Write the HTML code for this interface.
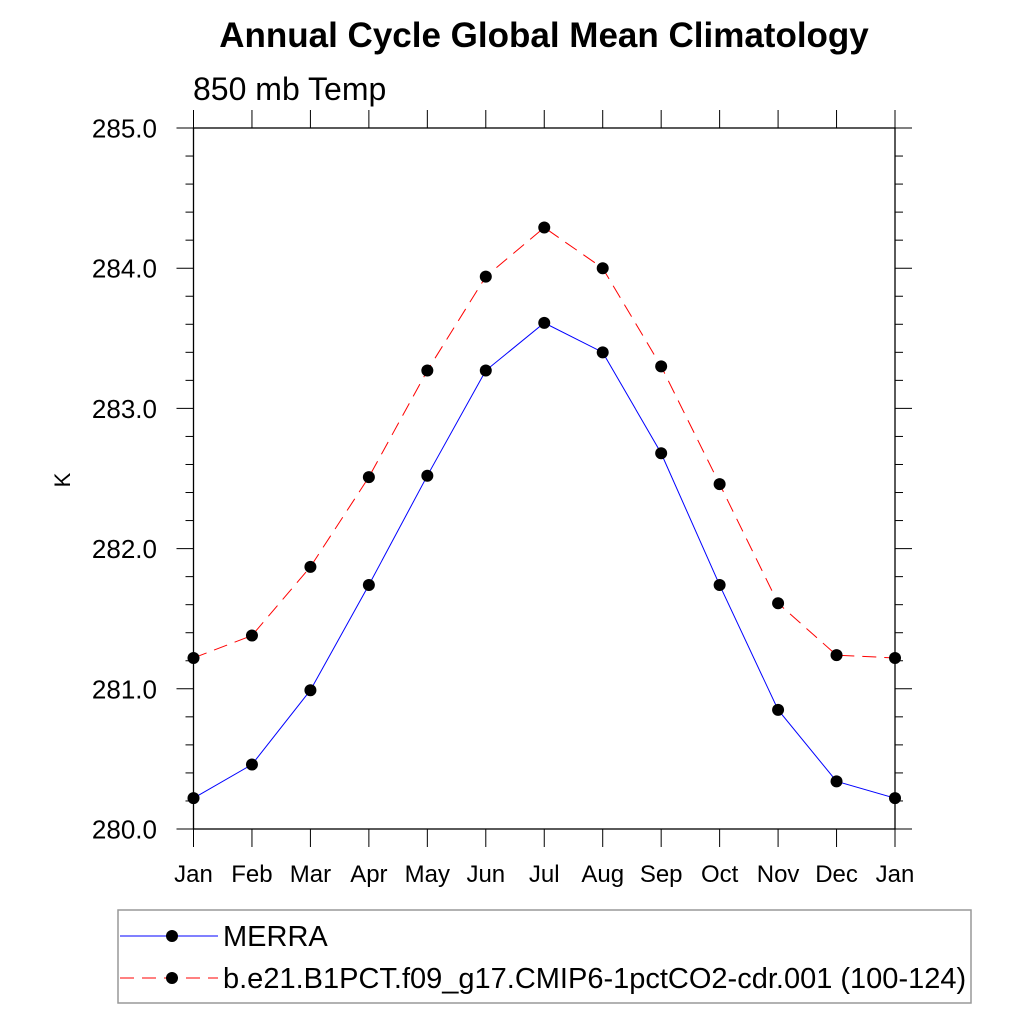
<!DOCTYPE html>
<html><head><meta charset="utf-8"><style>
html,body{margin:0;padding:0;background:#fff;}
svg text{font-family:"Liberation Sans",Arial,sans-serif;}
</style></head><body>
<svg id="chart" width="1024" height="1024" xmlns="http://www.w3.org/2000/svg">
<rect width="1024" height="1024" fill="#fff"/>
<text x="544" y="47" font-size="35" font-weight="bold" text-anchor="middle">Annual Cycle Global Mean Climatology</text>
<text x="193" y="100" font-size="32">850 mb Temp</text>
<text transform="translate(70,480) rotate(-90)" font-size="22" text-anchor="middle">K</text>
<g id="axes"></g>
<g id="series"></g>
<rect x="118" y="910" width="853" height="93" fill="none" stroke="#999" stroke-width="1.5"/>
<g>
<line x1="120" y1="936" x2="218" y2="936" stroke="#0000ff" stroke-width="1"/>
<circle cx="172" cy="936" r="6" fill="#000"/>
<text x="223" y="946" font-size="29">MERRA</text>
</g>
<g>
<line x1="120" y1="978" x2="218" y2="978" stroke="#ff0000" stroke-width="1" stroke-dasharray="14,8"/>
<circle cx="172" cy="978" r="6" fill="#000"/>
<text x="223" y="988" font-size="29">b.e21.B1PCT.f09_g17.CMIP6-1pctCO2-cdr.001 (100-124)</text>
</g>
</svg>
<script>
const months = ["Jan","Feb","Mar","Apr","May","Jun","Jul","Aug","Sep","Oct","Nov","Dec","Jan"];
const merra = [280.22,280.46,280.99,281.74,282.52,283.27,283.61,283.40,282.68,281.74,280.85,280.34,280.22];
const model = [281.22,281.38,281.87,282.51,283.27,283.94,284.29,284.00,283.30,282.46,281.61,281.24,281.22];
const yTicks = [280.0,281.0,282.0,283.0,284.0,285.0];

const L=193.5,R=895,T=128,B=829,yMin=280,yMax=285;
const NS="http://www.w3.org/2000/svg";
function xs(i){return L+i*(R-L)/(months.length-1);}
function ys(v){return B-(v-yMin)/(yMax-yMin)*(B-T);}
function mk(tag,attrs,parent){const e=document.createElementNS(NS,tag);for(const k in attrs)e.setAttribute(k,attrs[k]);parent.appendChild(e);return e;}
const axes=document.getElementById('axes');
const frame=mk('rect',{x:L,y:T,width:R-L,height:B-T,fill:'none',stroke:'#000','stroke-width':1.3},axes);


for(let v=yMin;v<=yMax+1e-6;v+=0.2){
  const major=Math.abs(v-Math.round(v))<1e-6;
  const len=major?17:8;const y=ys(v);
  mk('line',{x1:L-len,y1:y,x2:L,y2:y,stroke:'#000','stroke-width':1},axes);
  mk('line',{x1:R,y1:y,x2:R+len,y2:y,stroke:'#000','stroke-width':1},axes);
}
yTicks.forEach(v=>{
  const t=mk('text',{x:157,y:ys(v)+9.5,'font-size':26,'text-anchor':'end'},axes);
  t.textContent=v.toFixed(1);
  
  
});
months.forEach((m,i)=>{
  const x=xs(i);
  mk('line',{x1:x,y1:B,x2:x,y2:B+18,stroke:'#000','stroke-width':1},axes);
  mk('line',{x1:x,y1:T-18,x2:x,y2:T,stroke:'#000','stroke-width':1},axes);
  const t=mk('text',{x:x,y:882,'font-size':24,'text-anchor':'middle'},axes);
  t.textContent=m;
  
  
});
const ser=document.getElementById('series');
function drawSeries(vals,color,dash,name){
  const pts=vals.map((v,i)=>xs(i)+','+ys(v)).join(' ');
  const pl=mk('polyline',{points:pts,fill:'none',stroke:color,'stroke-width':1,'stroke-dasharray':dash},ser);
  
  
  vals.forEach((v,i)=>{
    const c=mk('circle',{cx:xs(i),cy:ys(v),r:6,fill:'#000'},ser);
    
    
  });
}
drawSeries(model,'#ff0000','14,8','model');
drawSeries(merra,'#0000ff','none','merra');
</script>
</body></html>
